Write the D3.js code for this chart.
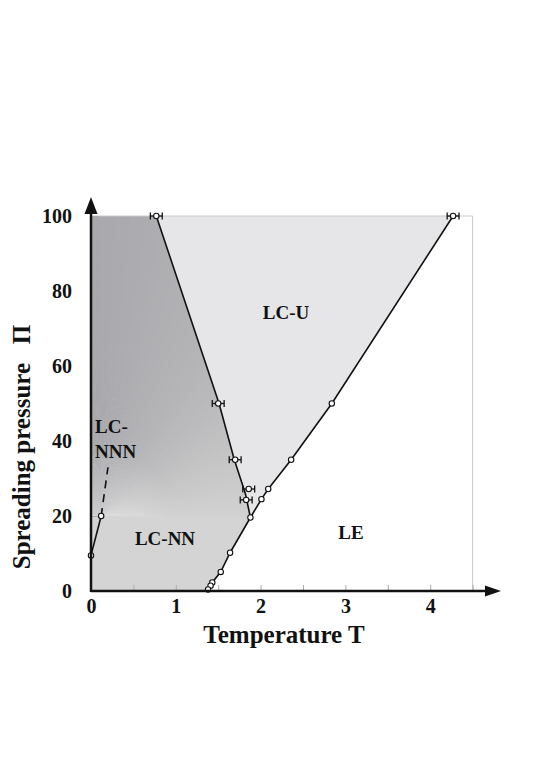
<!DOCTYPE html>
<html>
<head>
<meta charset="utf-8">
<script src="https://cdn.jsdelivr.net/npm/d3@7"></script>
<style>
body { margin: 0; background: #fff; }
text { font-family: "Liberation Serif", "Times New Roman", serif; font-weight: bold; fill: #111; }
</style>
</head>
<body>
<div id="chart"></div>
<script>
// values (T, Pi)
var xTicks = [0, 1, 2, 3, 4];
var yTicks = [0, 20, 40, 60, 80, 100];
var xStubs = [0.5, 1, 1.5, 2, 2.5, 3, 3.5, 4, 4.5];

// LC-NNN / LC-NN boundary
var nnnT = [0, 0.12];
var nnnP = [9.5, 20];
var dashT = [0.12, 0.2];
var dashP = [20, 33];

// LC-NN / LC-U boundary (line and measured points)
var leftT = [0.77, 1.51, 1.69, 1.82, 1.88];
var leftP = [100, 50, 35, 26, 19.6];
var leftPtT = [0.77, 1.50, 1.70, 1.86, 1.83];
var leftPtP = [100, 50, 35, 27.2, 24.3];

// LC-U / LE boundary
var rightT = [4.27, 2.84, 2.36, 2.09, 2.01, 1.88, 1.64, 1.53, 1.43, 1.41, 1.38, 1.37];
var rightP = [100, 50, 35, 27.2, 24.5, 19.6, 10.2, 5.1, 2.3, 1.4, 0.4, 0];
var rightPtT = [4.27, 2.84, 2.36, 2.09, 2.01, 1.88, 1.64, 1.53, 1.43, 1.41, 1.38];
var rightPtP = [100, 50, 35, 27.2, 24.5, 19.6, 10.2, 5.1, 2.3, 1.4, 0.4];

// points with error bars
var errT = [0.77, 1.50, 1.70, 1.86, 1.83, 4.27];
var errP = [100, 50, 35, 27.2, 24.3, 100];
var errHalf = 0.07;

var svgWidth = 545, svgHeight = 769;

var svg = d3.select('#chart')
    .append('svg')
    .attr('width', svgWidth)
    .attr('height', svgHeight);

var x = d3.scaleLinear().domain([0, 4.5]).range([91, 472.6]);
var y = d3.scaleLinear().domain([0, 100]).range([591, 216]);

function pts(ts, ps) {
    return ts.map((t, i) => [x(t), y(ps[i])]);
}
var line = d3.line();

var rightUpper = pts(rightT.slice(0, 6), rightP.slice(0, 6));   // 100 -> 19.6
var rightLower = pts(rightT.slice(5), rightP.slice(5));          // 19.6 -> 0
var leftUp = pts(leftT, leftP).reverse();                         // 19.6 -> 100

// regions
var lcU = rightUpper.concat(leftUp.slice(1));
var lcNN = [[x(0), y(0)]].concat(rightLower.slice().reverse(), leftUp.slice(1), [[x(0), y(100)]]);
var fan = [[x(0), y(20.8)], [x(0), y(100)]].concat(pts(leftT, leftP), [[x(0.12), y(20)]]);

svg.append('path').attr('d', 'M' + lcU.join('L') + 'Z').attr('fill', '#e6e6e8');
svg.append('path').attr('d', 'M' + lcNN.join('L') + 'Z').attr('fill', '#d4d4d4');

// fan shading of the LC-NNN area, centred on the end of the solid line
svg.append('clipPath').attr('id', 'fanClip')
    .append('path').attr('d', 'M' + fan.join('L') + 'Z');

var fanColor = d3.scaleLinear()
    .domain([0, 20, 40, 60, 95, 130, 180])
    .range(['#d2d2d2', '#c7c7c8', '#bdbdbf', '#b4b4b7', '#a8a8ac', '#b0b0b2', '#b8b8b9']);
var fanG = svg.append('g').attr('clip-path', 'url(#fanClip)');
var cx = x(0.12), cy = y(20), R = 500;
d3.range(0, 181, 1).forEach(a => {
    var a0 = (a - 0.6) * Math.PI / 180, a1 = (a + 0.6) * Math.PI / 180;
    fanG.append('path')
        .attr('d', `M${cx},${cy}L${cx + R * Math.cos(a0)},${cy - R * Math.sin(a0)}L${cx + R * Math.cos(a1)},${cy - R * Math.sin(a1)}Z`)
        .attr('fill', fanColor(a));
});
var glow = svg.append('defs').append('radialGradient').attr('id', 'glow');
glow.append('stop').attr('offset', '0%').attr('stop-color', '#fff').attr('stop-opacity', 0.3);
glow.append('stop').attr('offset', '100%').attr('stop-color', '#fff').attr('stop-opacity', 0);
fanG.append('circle').attr('cx', cx).attr('cy', cy).attr('r', 70).attr('fill', 'url(#glow)');

// frame at top and right
svg.append('path')
    .attr('d', `M${x(0)},${y(100)}H${x(4.5)}V${y(0)}`)
    .attr('fill', 'none').attr('stroke', '#c8c8c8').attr('stroke-width', 1);

// tick stubs
svg.append('g')
    .attr('transform', `translate(0,${y(0)})`)
    .call(d3.axisBottom(x).tickValues(xStubs).tickSizeInner(-6).tickSizeOuter(0).tickFormat(''))
    .call(g => g.select('.domain').remove())
    .selectAll('line').attr('stroke', '#aaa');
svg.append('g')
    .attr('transform', `translate(${x(0)},0)`)
    .call(d3.axisLeft(y).tickValues(yTicks.slice(1)).tickSizeInner(-8).tickSizeOuter(0).tickFormat(''))
    .call(g => g.select('.domain').remove())
    .selectAll('line').attr('stroke', '#aaa');

// boundaries
function stroke(d, dash) {
    svg.append('path').attr('d', line(d))
        .attr('fill', 'none').attr('stroke', '#111').attr('stroke-width', 1.6)
        .attr('stroke-dasharray', dash || null);
}
stroke(pts(nnnT, nnnP));
stroke(pts(dashT, dashP), '8,6');
stroke(pts(leftT, leftP));
stroke(pts(rightT, rightP));

// error bars
errT.forEach((t, i) => {
    var g = svg.append('g').attr('stroke', '#111').attr('stroke-width', 1.3);
    var yy = y(errP[i]);
    g.append('line').attr('x1', x(t - errHalf)).attr('x2', x(t + errHalf)).attr('y1', yy).attr('y2', yy);
    g.append('line').attr('x1', x(t - errHalf)).attr('x2', x(t - errHalf)).attr('y1', yy - 3.5).attr('y2', yy + 3.5);
    g.append('line').attr('x1', x(t + errHalf)).attr('x2', x(t + errHalf)).attr('y1', yy - 3.5).attr('y2', yy + 3.5);
});

// measured points
var allPts = pts(nnnT, nnnP).concat(pts(leftPtT, leftPtP), pts(rightPtT, rightPtP));
svg.selectAll('circle.pt')
    .data(allPts)
    .enter()
    .append('circle')
    .attr('class', 'pt')
    .attr('cx', d => d[0])
    .attr('cy', d => d[1])
    .attr('r', 2.7)
    .attr('fill', '#fff')
    .attr('stroke', '#111')
    .attr('stroke-width', 1.1);

// axes with arrows
svg.append('line').attr('x1', x(0)).attr('x2', 487).attr('y1', y(0)).attr('y2', y(0))
    .attr('stroke', '#111').attr('stroke-width', 2.5);
svg.append('path').attr('d', `M501,${y(0)}L485,${y(0) - 5.5}L485,${y(0) + 5.5}Z`).attr('fill', '#111');
svg.append('line').attr('x1', x(0)).attr('x2', x(0)).attr('y1', y(0) + 1).attr('y2', 212)
    .attr('stroke', '#111').attr('stroke-width', 2.5);
svg.append('path').attr('d', `M${x(0)},197L${x(0) - 6.5},214L${x(0) + 6.5},214Z`).attr('fill', '#111');

// tick labels
svg.append('g')
    .attr('transform', `translate(0,${y(0)})`)
    .call(d3.axisBottom(x).tickValues(xTicks).tickSize(0).tickPadding(8).tickFormat(d3.format('d')))
    .call(g => g.select('.domain').remove())
    .selectAll('text')
    .style('font-family', '"Liberation Serif", serif').style('font-weight', 'bold')
    .style('font-size', '20px').attr('fill', '#111');
svg.append('g')
    .attr('transform', `translate(${x(0)},0)`)
    .call(d3.axisLeft(y).tickValues(yTicks).tickSize(0).tickPadding(19).tickFormat(d3.format('d')))
    .call(g => g.select('.domain').remove())
    .selectAll('text')
    .style('font-family', '"Liberation Serif", serif').style('font-weight', 'bold')
    .style('font-size', '20px').attr('fill', '#111');

// axis titles
svg.append('text')
    .attr('x', 284).attr('y', 643)
    .attr('text-anchor', 'middle')
    .attr('font-size', 25)
    .text('Temperature T');
svg.append('text')
    .attr('transform', 'rotate(-90)')
    .attr('x', -447).attr('y', 30)
    .attr('text-anchor', 'middle')
    .attr('font-size', 25)
    .attr('xml:space', 'preserve')
    .text('Spreading pressure   \u03A0');

// phase labels
svg.append('text').attr('x', 286).attr('y', y(72.5)).attr('text-anchor', 'middle').attr('font-size', 19).text('LC-U');
svg.append('text').attr('x', 351).attr('y', y(13.9)).attr('text-anchor', 'middle').attr('font-size', 19).text('LE');
svg.append('text').attr('x', 165).attr('y', y(12.3)).attr('text-anchor', 'middle').attr('font-size', 19).text('LC-NN');
svg.append('text').attr('x', 95).attr('y', y(42.1)).attr('font-size', 19).text('LC-');
svg.append('text').attr('x', 95).attr('y', y(35.5)).attr('font-size', 19).text('NNN');
</script>
</body>
</html>
